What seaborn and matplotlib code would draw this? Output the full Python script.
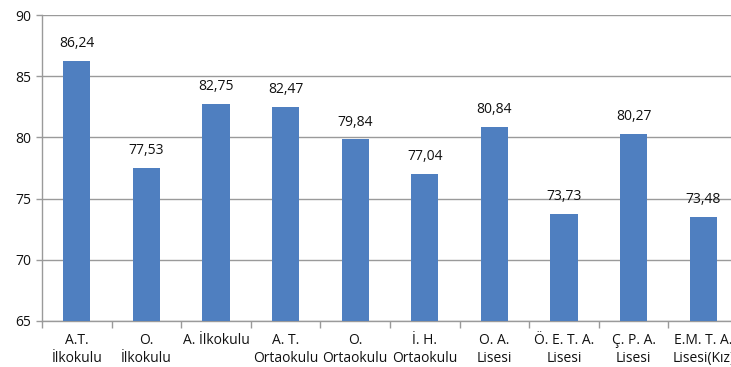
import matplotlib
matplotlib.use("Agg")
import matplotlib.pyplot as plt
import seaborn as sns
import numpy as np
import pandas as pd

schools = ["A.T.\nİlkokulu", "O.\nİlkokulu", "A. İlkokulu", "A. T.\nOrtaokulu", "O.\nOrtaokulu",
           "İ. H.\nOrtaokulu", "O. A.\nLisesi", "Ö. E. T. A.\nLisesi", "Ç. P. A.\nLisesi", "E.M. T. A.\nLisesi(Kız)"]
scores = [86.24, 77.53, 82.75, 82.47, 79.84, 77.04, 80.84, 73.73, 80.27, 73.48]
y_ticks = [65, 70, 75, 80, 85, 90]

sns.set_theme(style="white")
plt.rcParams["font.family"] = ["Open Sans", "DejaVu Sans"]

df = pd.DataFrame({"okul": schools, "puan": scores})

fig = plt.figure(figsize=(7.31, 3.67), dpi=100)
ax = fig.add_axes([42 / 731, 46 / 367, 696 / 731, 306 / 367])

sns.barplot(data=df, x="okul", y="puan", color="#4F7FC0", saturation=1, width=0.39,
            linewidth=0, ax=ax, zorder=3)

ax.set_ylim(65, 90)
ax.set_xlim(-0.5, len(schools) - 0.5)
ax.set_yticks(y_ticks)
ax.set_yticklabels([str(t) for t in y_ticks], fontsize=10, color="#111111")
ax.yaxis.grid(True, color="#9a9a9a", linewidth=1.0, zorder=0)
ax.set_xlabel("")
ax.set_ylabel("")

for s in ["top", "right"]:
    ax.spines[s].set_visible(False)
for s in ["left", "bottom"]:
    ax.spines[s].set_color("#9a9a9a")
    ax.spines[s].set_linewidth(1.0)

ax.tick_params(axis="x", which="major", length=0, labelsize=10, pad=9, labelcolor="#111111")
for lbl in ax.get_xticklabels():
    lbl.set_linespacing(1.25)
ax.set_xticks(np.arange(-0.5, len(schools), 1.0), minor=True)
ax.tick_params(axis="x", which="minor", length=5, color="#9a9a9a", width=1.0, direction="out", bottom=True)
ax.tick_params(axis="y", length=4, color="#9a9a9a", width=1.0, direction="out", left=True, pad=4)

for i, v in enumerate(scores):
    ax.annotate(f"{v:.2f}".replace(".", ","), (i, v), xytext=(0, 7), textcoords="offset points",
                ha="center", va="bottom", fontsize=10, color="#111111")

fig.savefig("out.png", dpi=100)
